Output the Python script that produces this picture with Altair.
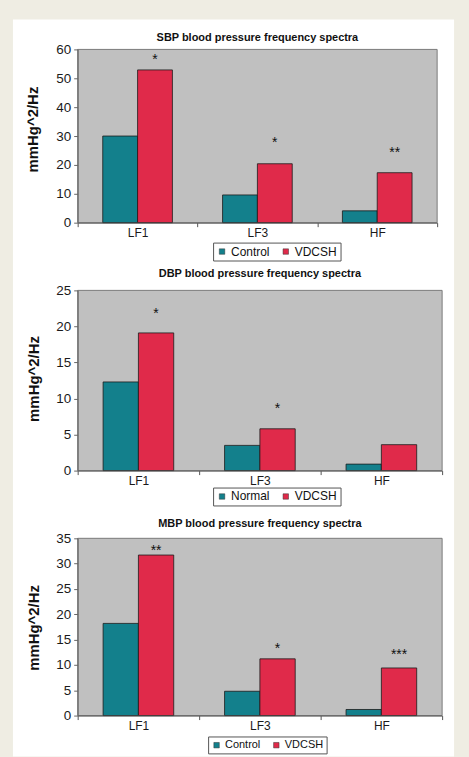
import altair as alt
import pandas as pd

# Frequency bands shown on every panel
bands = ["LF1", "LF3", "HF"]

# Systolic blood pressure spectra
sbp_groups = ["Control", "VDCSH"]
sbp_control = [30.0, 9.6, 4.1]
sbp_vdcsh = [52.9, 20.4, 17.3]
sbp_stars = ["*", "*", "**"]
sbp_star_pos = [57.7, 28.8, 25.5]

# Diastolic blood pressure spectra
dbp_groups = ["Normal", "VDCSH"]
dbp_normal = [12.3, 3.5, 0.9]
dbp_vdcsh = [19.1, 5.8, 3.6]
dbp_stars = ["*", "*", ""]
dbp_star_pos = [22.3, 9.1, 0.0]

# Mean blood pressure spectra
mbp_groups = ["Control", "VDCSH"]
mbp_control = [18.2, 4.8, 1.2]
mbp_vdcsh = [31.7, 11.2, 9.4]
mbp_stars = ["**", "*", "***"]
mbp_star_pos = [33.2, 13.9, 12.7]

TEAL = "#13808c"
RED = "#e02a4a"
PLOT_BG = "#c0c0c0"
PAGE_BG = "#efede3"
FONT = "Liberation Sans"

# all panels share the same left origin; the white card spans these x offsets
CARD_LEFT, CARD_RIGHT = -65, 378


def panel(title, groups, base, treated, stars, star_pos, y_max, y_step,
          width, height, card_top, card_bottom, title_y,
          ytitle_x, ytitle_y, legend_x, legend_y, legend_font):
    bars = pd.DataFrame({
        "band": bands * 2,
        "group": [groups[0]] * 3 + [groups[1]] * 3,
        "value": base + treated,
    })
    marks = pd.DataFrame({
        "band": bands,
        "group": [groups[1]] * 3,
        "star": stars,
        "pos": star_pos,
    })
    marks = marks[marks["star"] != ""]

    x_axis = alt.Axis(title=None, labelAngle=0, tickBand="extent", tickSize=4,
                      labelPadding=1, labelFontSize=12, labelColor="#1a1a1a",
                      domainColor="#555555", tickColor="#555555", grid=False,
                      zindex=1)
    y_axis = alt.Axis(values=list(range(0, y_max + 1, y_step)), title="mmHg^2/Hz",
                      titleFontSize=15, titleFontWeight="bold", titleColor="#111111",
                      titleAngle=270, titleAlign="center", titleBaseline="middle",
                      titleX=ytitle_x, titleY=ytitle_y,
                      labelFontSize=13.5, labelColor="#1a1a1a", labelPadding=3,
                      tickSize=4, domainColor="#666666", tickColor="#666666",
                      grid=False, zindex=1)
    x_enc = alt.X("band:N", sort=bands,
                  scale=alt.Scale(domain=bands, paddingInner=0, paddingOuter=0),
                  axis=x_axis)
    xo_enc = alt.XOffset("group:N",
                         scale=alt.Scale(domain=groups, paddingInner=0, paddingOuter=0.72))
    y_scale = alt.Scale(domain=[0, y_max], nice=False, zero=True)

    one_row = alt.Data(values=[{"k": 1}])

    card = alt.Chart(one_row).mark_rect(color="white").encode(
        x=alt.value(CARD_LEFT), x2=alt.value(CARD_RIGHT),
        y=alt.value(card_top), y2=alt.value(card_bottom),
    )
    plot_bg = alt.Chart(one_row).mark_rect(
        fill=PLOT_BG, stroke="#7a7a7a", strokeWidth=1
    ).encode(
        x=alt.value(0), x2=alt.value(width), y=alt.value(0), y2=alt.value(height),
    )
    bar_layer = alt.Chart(bars).mark_bar(stroke="#1a1a1a", strokeWidth=0.8).encode(
        x=x_enc,
        xOffset=xo_enc,
        y=alt.Y("value:Q", scale=y_scale, axis=y_axis),
        color=alt.Color(
            "group:N",
            scale=alt.Scale(domain=groups, range=[TEAL, RED]),
            legend=alt.Legend(
                orient="none", legendX=legend_x, legendY=legend_y,
                direction="horizontal", title=None, symbolType="square",
                symbolSize=30, symbolStrokeColor="#333333", symbolStrokeWidth=0.5,
                labelFontSize=legend_font, labelFont=FONT, labelColor="#111111",
                labelOffset=3, columnPadding=10, padding=3,
                strokeColor="#555555", fillColor="white", zindex=1,
            ),
        ),
    )
    star_layer = alt.Chart(marks).mark_text(
        fontSize=14, font=FONT, color="#111111", baseline="alphabetic", dy=8
    ).encode(
        x=x_enc,
        xOffset=xo_enc,
        y=alt.Y("pos:Q", scale=y_scale, axis=y_axis),
        text="star:N",
    )
    title_layer = alt.Chart(one_row).mark_text(
        text=title, font=FONT, fontSize=11, fontWeight="bold", color="#111111",
        align="center", baseline="alphabetic",
    ).encode(x=alt.value(width / 2), y=alt.value(title_y))

    return alt.layer(card, plot_bg, bar_layer, star_layer, title_layer).properties(
        width=width, height=height
    )


sbp = panel("SBP blood pressure frequency spectra", sbp_groups, sbp_control, sbp_vdcsh,
            sbp_stars, sbp_star_pos, 60, 10, 361, 174, -30, 217, -8.5,
            -45, 80, 136, 194, 12)
dbp = panel("DBP blood pressure frequency spectra", dbp_groups, dbp_normal, dbp_vdcsh,
            dbp_stars, dbp_star_pos, 25, 5, 366, 181, -26, 223, -13,
            -44, 88.5, 136, 198, 12)
mbp = panel("MBP blood pressure frequency spectra", mbp_groups, mbp_control, mbp_vdcsh,
            mbp_stars, mbp_star_pos, 35, 5, 366, 178, -27, 219, -11.3,
            -44, 89.5, 131, 199, 11)

# one column, panels stacked by their plot sizes only; the white cards overlap slightly
chart = alt.concat(sbp, dbp, mbp, columns=1, spacing=68, bounds="flush").resolve_scale(
    color="independent", x="independent", y="independent", xOffset="independent"
).resolve_legend(color="independent").properties(
    background=PAGE_BG,
    padding={"left": 12, "top": 17, "right": 14, "bottom": 0},
).configure_view(strokeWidth=0).configure(font=FONT)

chart.save("out.html", embed_options={"renderer": "svg", "actions": False})
